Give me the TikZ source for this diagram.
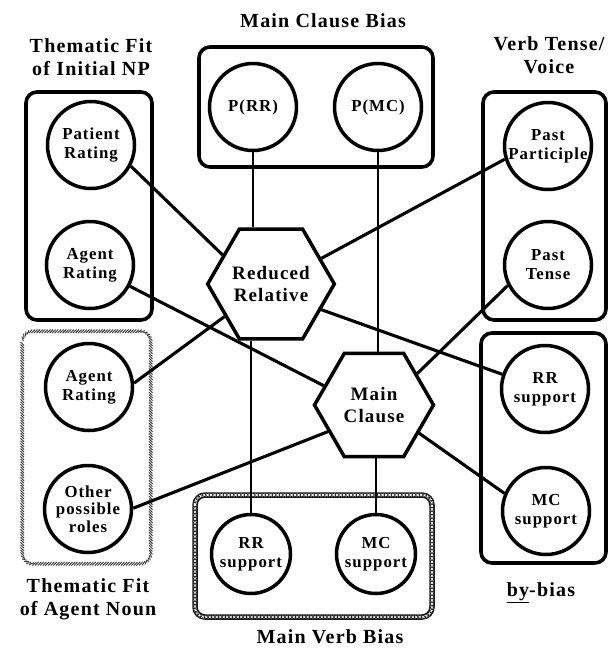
\documentclass[tikz,border=0pt]{standalone}
\usepackage{fontspec}
\setmainfont{Liberation Serif}[LetterSpace=6]
\usetikzlibrary{shapes.geometric,decorations.pathreplacing,decorations.shapes}
\begin{document}
\begin{tikzpicture}[x=1pt,y=-1pt,
  circ/.style={circle,draw,line width=3.5pt,minimum size=87pt,inner sep=-8pt,align=center,font=\fontsize{16.8}{19}\selectfont\bfseries},
  hex/.style={regular polygon,regular polygon sides=6,draw,line width=3.5pt,minimum size=119pt,inner sep=0pt,align=center,font=\fontsize{19}{22}\selectfont\bfseries},
  title/.style={align=center,font=\fontsize{20}{23}\selectfont\bfseries,inner sep=0pt},
  box/.style={draw,line width=3.6pt,rounded corners=11pt},
  link/.style={line width=3.1pt},
  vlink/.style={line width=2.4pt},
]
\useasboundingbox (0,0) rectangle (610,649);

% group boxes
\draw[box] (26,92) rectangle (152,320);
\draw[box] (199,47) rectangle (433,167);
\draw[box] (483,92) rectangle (606,320);
\draw[box] (481,333) rectangle (606,563);
% hatched box (thematic fit of agent noun)
\draw[black!80,line width=0.9pt,decorate,decoration={border,segment length=2.6pt,amplitude=5pt,angle=45,raise=-2.5pt}]
  [rounded corners=10pt] (23,332) rectangle (150,563);
% cross-hatched box (main verb bias)
\draw[black!90,line width=5.5pt,rounded corners=10pt] (195,495) rectangle (432,617);
\draw[white,line width=0.6pt,decorate,decoration={crosses,segment length=3.5pt,shape size=2.4pt}]
  [rounded corners=10pt] (195,495) rectangle (432,617);

% nodes
\node[circ] (pat) at (91,145) {Patient\\Rating};
\node[circ] (ag1) at (90,265) {Agent\\Rating};
\node[circ] (ag2) at (89,387) {Agent\\Rating};
\node[circ,font=\fontsize{16.8}{17.5}\selectfont\bfseries] (oth) at (88,509) {Other\\possible\\roles};
\node[circ] (prr) at (253,107) {P(RR)};
\node[circ] (pmc) at (378,107) {P(MC)};
\node[circ] (pp) at (548,146) {Past\\Participle};
\node[circ] (pt) at (548,265) {Past\\Tense};
\node[circ] (rrs) at (545,389) {RR\\support};
\node[circ] (mcs) at (546,511) {MC\\support};
\node[circ,minimum size=79pt] (rrb) at (251,554) {RR\\support};
\node[circ,minimum size=79pt] (mcb) at (376,554) {MC\\support};
\node[hex] (rr) at (271,284) {Reduced\\Relative};
\node[hex] (mc) at (374,405) {Main\\Clause};

% connectors
\draw[link] (pat.-28) -- (rr.149);
\draw[link] (ag1.-28) -- (mc.159);
\draw[link] (ag2.5) -- (rr.-145);
\draw[link] (oth.1) -- (mc.210);
\draw[link] (pp.197) -- (rr.27);
\draw[link] (pt.207) -- (mc.36);
\draw[link] (rr.-27) -- (rrs.161);
\draw[link] (mc.-32) -- (mcs.157);
\draw[vlink] (prr.south) -- (prr.south |- rr.north);
\draw[vlink] (pmc.south) -- (pmc.south |- mc.north);
\draw[vlink] (rrb.north |- rr.south) -- (rrb.north);
\draw[vlink] (mcb.north |- mc.south) -- (mcb.north);

% titles
\node[title] (t1) at (91,57) {Thematic Fit\\of Initial NP};
\node[title] (t2) at (323,21) {Main Clause Bias};
\node[title] (t3) at (549,55) {Verb Tense/\\Voice};
\node[title] (t4) at (88,599) {Thematic Fit\\of Agent Noun};
\node[title] (t5) at (330,637) {Main Verb Bias};
\node[title] (t6) at (541,593) {\underline{by}-bias};
\end{tikzpicture}
\end{document}
